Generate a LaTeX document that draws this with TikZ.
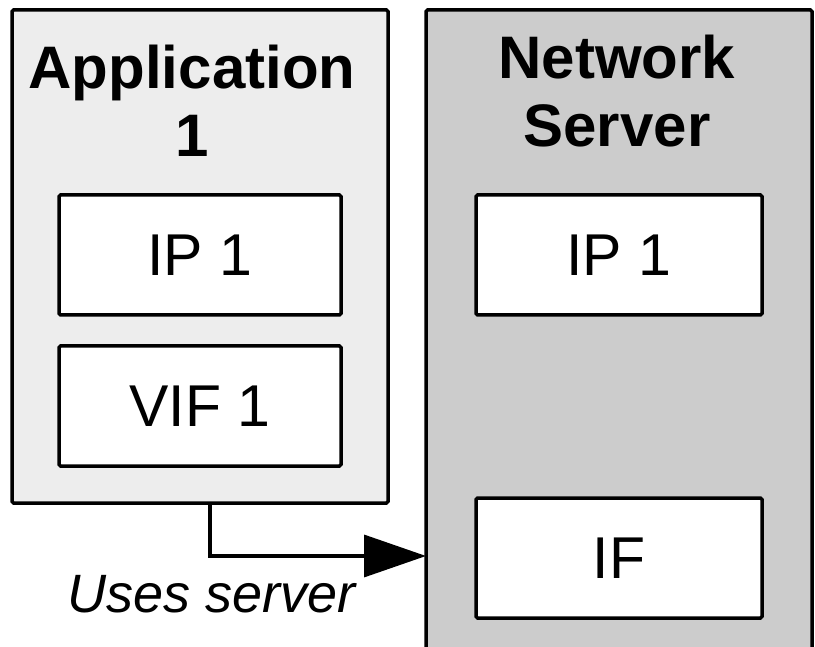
\documentclass[tikz,border=0pt]{standalone}
\usepackage{fontspec}
\setmainfont{Liberation Sans}
\usetikzlibrary{arrows.meta,positioning}
\definecolor{appfill}{HTML}{EDEDED}
\definecolor{srvfill}{HTML}{CCCCCC}
\tikzset{
  frame/.style={draw=black, line width=3.5pt, rounded corners=1.5pt, inner sep=0pt, outer sep=0pt},
  part/.style={frame, fill=white, minimum width=282pt, minimum height=120pt,
               font=\fontsize{59}{66}\selectfont},
  heading/.style={align=center, inner sep=0pt, font=\fontsize{60}{68.5}\selectfont\bfseries},
  link/.style={line width=3.5pt, -{Triangle[length=62pt,width=42pt]}}
}
\begin{document}
\begin{tikzpicture}[x=1pt,y=-1pt]
  \clip (0,0) rectangle (815,647);
  \fill[white] (0,0) rectangle (815,647);
  % the two containers
  \node[frame, fill=appfill, minimum width=376pt, minimum height=493pt] (app) at (200,256.5) {};
  \node[frame, fill=srvfill, minimum width=386pt, minimum height=660pt] (srv) at (619,340) {};
  % headings (base anchor sits on the last line)
  \node[heading, anchor=base] (apptitle) at (192,157) {Application\\1};
  \node[heading, anchor=base] (srvtitle) at (617,147) {Network\\Server};
  % inner parts
  \node[part] (ipa) at (200,255) {IP 1};
  \node[part] (vif) at (200,406) {VIF 1};
  \node[part, minimum width=286pt] (ipb) at (619,255) {IP 1};
  \node[part, minimum width=286pt] (iface) at (619,558) {IF};
  % usage link
  \coordinate (start) at ([xshift=10pt]app.south);
  \coordinate (tip) at (srv.west |- 0,556);
  \draw[link] (start) |- (tip);
  \node[anchor=base, inner sep=0pt, font=\fontsize{54}{66}\selectfont\itshape] (uses) at (212,612) {Uses server};
\end{tikzpicture}
\end{document}
